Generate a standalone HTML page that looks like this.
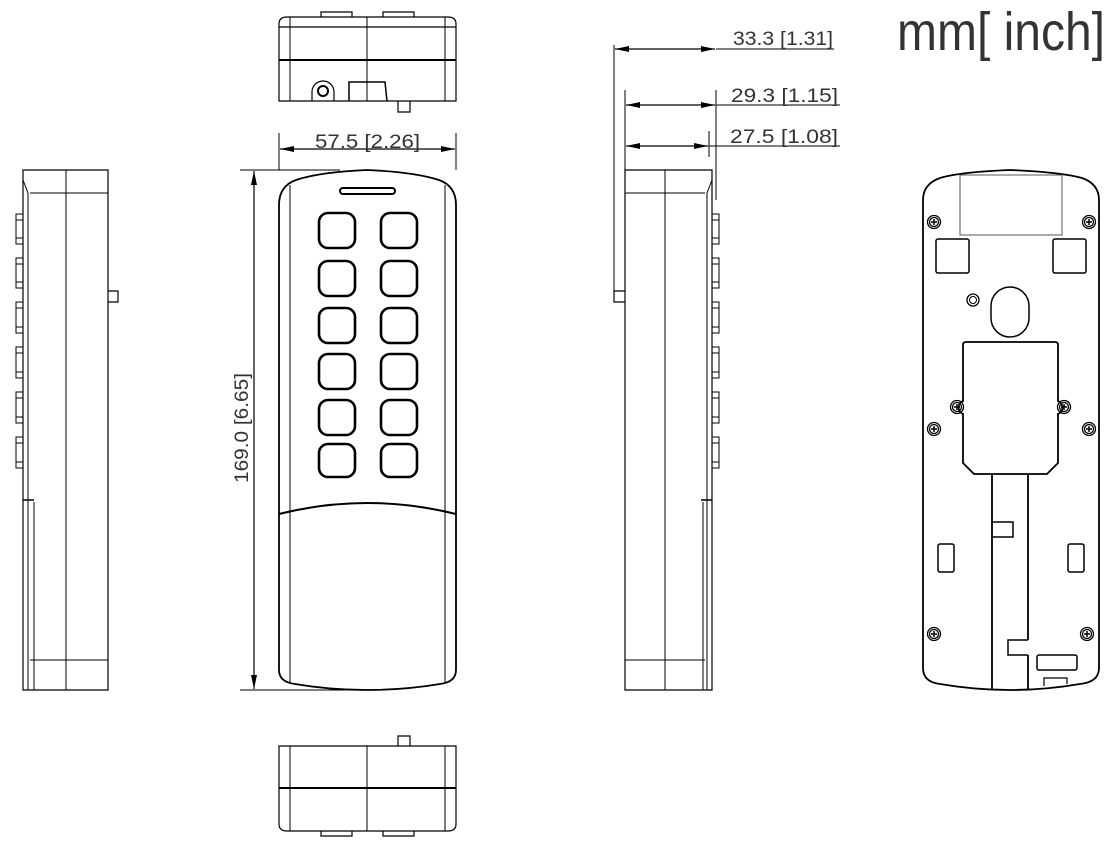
<!DOCTYPE html>
<html><head><meta charset="utf-8"><style>
html,body{margin:0;padding:0;background:#fff;}
svg{display:block;}
text{font-family:"Liberation Sans Narrow","Liberation Sans",sans-serif;fill:#333;}
</style></head><body>
<svg width="1119" height="854" viewBox="0 0 1119 854" xmlns="http://www.w3.org/2000/svg">
<defs>
<marker id="a" viewBox="0 0 14 6" refX="14" refY="3" markerWidth="14" markerHeight="6" orient="auto-start-reverse" markerUnits="userSpaceOnUse"><path d="M0,0 L14,3 L0,6 z" fill="#000"/></marker>
<g id="scr"><circle r="6.5" fill="none" stroke="#000" stroke-width="1.3"/><circle r="4.5" fill="none" stroke="#000" stroke-width="1.3"/><path d="M-3,0H3M0,-3V3" stroke="#000" stroke-width="1.5"/></g>
</defs>
<g fill="none" stroke="#000" stroke-width="1.2">
<path d="M279,101 V24 Q279,17 287,17 H448 Q456,17 456,24 V101 Z"/>
<path d="M279,27H456" /><path d="M279,60H456" stroke-width="2"/>
<path d="M290,17V101M367,17V101M445,17V101" stroke-width="1"/>
<path d="M321,17V12H352V17M383,17V12H414V17"/>
<path d="M312,101V92A10,10 0 0 1 334,92V101"/><circle cx="323" cy="91" r="5" stroke-width="2"/>
<path d="M349,101V82H385L387,101" stroke-width="1.5"/>
<path d="M398,101V112H410V101"/>
<path d="M279,133V170M456,133V170" stroke-width="1"/>
<path d="M280,149H455" marker-start="url(#a)" marker-end="url(#a)"/>
<path d="M367,170 Q320,172 296,180 Q279,186 279,205 V670 Q279,682 295,684 Q330,690 367,690 Q404,690 440,684 Q456,682 456,670 V205 Q456,186 439,180 Q414,172 367,170 Z" stroke-width="1.8"/>
<path d="M290,185V682M445,185V682" stroke-width="1"/>
<rect x="340" y="188" width="55" height="6" rx="3" stroke-width="2"/>
<g stroke-width="2.6">
<rect x="319" y="213" width="36" height="35" rx="9"/><rect x="381" y="213" width="36" height="35" rx="9"/>
<rect x="319" y="261" width="36" height="35" rx="9"/><rect x="381" y="261" width="36" height="35" rx="9"/>
<rect x="319" y="308" width="36" height="35" rx="9"/><rect x="381" y="308" width="36" height="35" rx="9"/>
<rect x="319" y="354" width="36" height="35" rx="9"/><rect x="381" y="354" width="36" height="35" rx="9"/>
<rect x="319" y="400" width="36" height="35" rx="9"/><rect x="381" y="400" width="36" height="35" rx="9"/>
<rect x="319" y="444" width="36" height="33" rx="9"/><rect x="381" y="444" width="36" height="33" rx="9"/>
</g>
<path d="M279,514 Q367,492 456,514" stroke-width="2"/>
<path d="M240,170H340M240,690H345" stroke-width="1"/>
<path d="M254,171V689" marker-start="url(#a)" marker-end="url(#a)"/>
<path d="M279,746 V824 Q279,831 287,831 H448 Q456,831 456,824 V746 Z"/>
<path d="M279,788H456" stroke-width="2"/>
<path d="M290,746V831M367,746V831M445,746V831" stroke-width="1"/>
<path d="M398,746V736H410V746"/>
<path d="M321,831V836H352V831M383,831V836H414V831"/>
<path d="M23,170H108V690H23Z"/>
<path d="M30,193H108M30,660H108" stroke-width="1"/>
<path d="M23,180L28,193V690M66,170V690M34,502V690" stroke-width="1"/>
<path d="M23,500H34" stroke-width="1.5"/>
<path d="M108,291H118V302H108"/>
<g stroke-width="1">
<path d="M23,214H16V244H23M16,220H23M16,238H23"/>
<path d="M23,258H16V288H23M16,264H23M16,282H23"/>
<path d="M23,302H16V333H23M16,308H23M16,327H23"/>
<path d="M23,347H16V378H23M16,353H23M16,372H23"/>
<path d="M23,392H16V423H23M16,398H23M16,417H23"/>
<path d="M23,437H16V468H23M16,443H23M16,462H23"/>
</g>
<path d="M625,170H712V690H625Z"/>
<path d="M625,193H705M625,660H705" stroke-width="1"/>
<path d="M712,180L707,193V690M665,170V690M703,502V690" stroke-width="1"/>
<path d="M712,500H701" stroke-width="1.5"/>
<path d="M625,291H614V302H625"/>
<g stroke-width="1">
<path d="M712,214H719V244H712M719,220H712M719,238H712"/>
<path d="M712,258H719V288H712M719,264H712M719,282H712"/>
<path d="M712,302H719V333H712M719,308H712M719,327H712"/>
<path d="M712,347H719V378H712M719,353H712M719,372H712"/>
<path d="M712,392H719V423H712M719,398H712M719,417H712"/>
<path d="M712,437H719V468H712M719,443H712M719,462H712"/>
</g>
<path d="M614,45V291M625,90V170M716,90V200M709,131V157" stroke-width="1"/>
<path d="M615,49H715" marker-start="url(#a)" marker-end="url(#a)"/>
<path d="M626,105H715" marker-start="url(#a)" marker-end="url(#a)"/>
<path d="M626,146H708" marker-start="url(#a)" marker-end="url(#a)"/>
<path d="M716,49H834M716,105H840M709,146H840" stroke-width="1"/>
<path d="M1010,170 Q960,172 940,178 Q923,184 923,200 V668 Q923,682 940,684 Q975,690 1010,690 Q1045,690 1080,684 Q1099,682 1099,668 V200 Q1099,184 1082,178 Q1060,172 1010,170 Z" stroke-width="1.8"/>
<rect x="960" y="175" width="102" height="60" stroke="#555" stroke-width="1"/>
<rect x="936" y="239" width="33" height="34" rx="2" stroke-width="1.5"/>
<rect x="1053" y="239" width="33" height="34" rx="2" stroke-width="1.5"/>
<circle cx="973" cy="300" r="6" stroke-width="1.3"/><circle cx="973" cy="300" r="3.5" stroke-width="1"/>
<rect x="991" y="287" width="38" height="50" rx="19" stroke-width="1.5"/>
<path d="M963,401V345Q963,342 966,342H1055Q1058,342 1058,345V401A7,7 0 0 1 1058,414V463L1047,474H974L963,463V414A7,7 0 0 1 963,401Z" stroke-width="1.8"/>
<path d="M992,474V690M1028,474V640M1028,655V690" stroke-width="1.8"/>
<path d="M992,522H1013V537H992" stroke-width="1.5"/>
<path d="M1028,640H1008V655H1028" stroke-width="1.5"/>
<rect x="938" y="544" width="16" height="28" rx="2" stroke-width="1.5"/>
<rect x="1068" y="544" width="16" height="28" rx="2" stroke-width="1.5"/>
<rect x="1037" y="655" width="40" height="15" rx="2" stroke-width="1.5"/>
<path d="M1044,686V678H1067V684" stroke-width="1.2"/>
</g>
<use href="#scr" x="934" y="222"/><use href="#scr" x="1089" y="222"/>
<use href="#scr" x="934" y="429"/><use href="#scr" x="1089" y="429"/>
<use href="#scr" x="957" y="407"/><use href="#scr" x="1064" y="407"/>
<use href="#scr" x="934" y="634"/><use href="#scr" x="1087" y="634"/>
<text x="315" y="148" font-size="19" textLength="105" lengthAdjust="spacingAndGlyphs">57.5  [2.26]</text>
<text transform="translate(248,483) rotate(-90)" font-size="19" textLength="110" lengthAdjust="spacingAndGlyphs">169.0  [6.65]</text>
<text x="733" y="45" font-size="19" textLength="100" lengthAdjust="spacingAndGlyphs">33.3 [1.31]</text>
<text x="731" y="102" font-size="19" textLength="107" lengthAdjust="spacingAndGlyphs">29.3  [1.15]</text>
<text x="730" y="143" font-size="19" textLength="108" lengthAdjust="spacingAndGlyphs">27.5  [1.08]</text>
<text x="897" y="50" font-size="54" textLength="208" lengthAdjust="spacingAndGlyphs">mm[ inch]</text>
</svg>
</body></html>
